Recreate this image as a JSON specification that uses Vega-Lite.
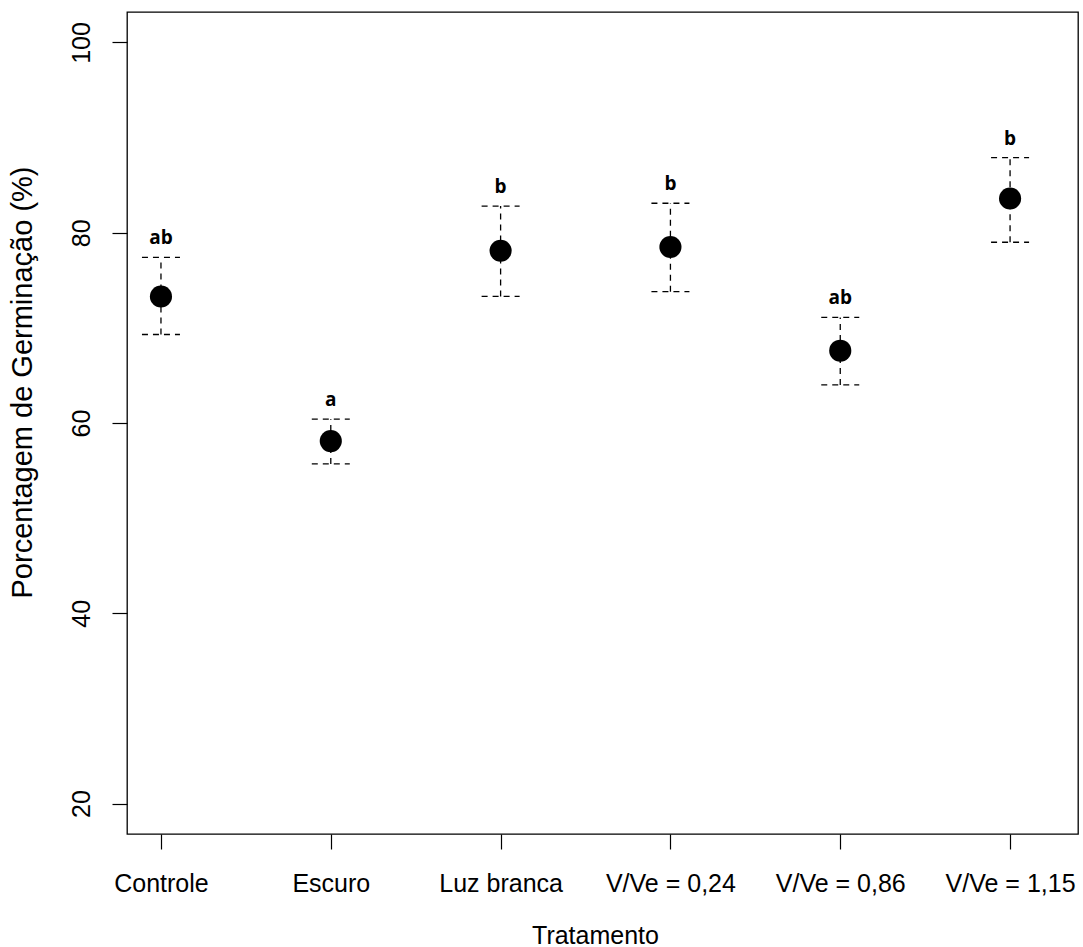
{
  "$schema": "https://vega.github.io/schema/vega-lite/v6.json",
  "width": 951,
  "height": 822,
  "autosize": {"type": "none"},
  "padding": {"left": 127, "top": 12, "right": 5, "bottom": 113},
  "background": "white",
  "config": {
    "view": {"stroke": "black", "strokeWidth": 1.3},
    "axis": {
      "grid": false,
      "domain": false,
      "tickColor": "black",
      "tickSize": 15,
      "tickWidth": 1.2,
      "labelColor": "black",
      "labelFont": "Liberation Sans",
      "labelFontSize": 25,
      "titleColor": "black",
      "titleFont": "Liberation Sans",
      "titleFontWeight": "normal"
    }
  },
  "data": {
    "values": [
      {"idx": 1, "trat": "Controle", "media": 73.3, "inf": 69.3, "sup": 77.4, "letra": "ab"},
      {"idx": 2, "trat": "Escuro", "media": 58.1, "inf": 55.7, "sup": 60.4, "letra": "a"},
      {"idx": 3, "trat": "Luz branca", "media": 78.1, "inf": 73.3, "sup": 82.8, "letra": "b"},
      {"idx": 4, "trat": "V/Ve = 0,24", "media": 78.5, "inf": 73.8, "sup": 83.1, "letra": "b"},
      {"idx": 5, "trat": "V/Ve = 0,86", "media": 67.6, "inf": 64.0, "sup": 71.1, "letra": "ab"},
      {"idx": 6, "trat": "V/Ve = 1,15", "media": 83.6, "inf": 79.0, "sup": 87.9, "letra": "b"}
    ]
  },
  "encoding": {
    "x": {
      "field": "idx",
      "type": "quantitative",
      "scale": {"domain": [0.8, 6.4], "nice": false, "zero": false},
      "axis": {
        "values": [1, 2, 3, 4, 5, 6],
        "labelExpr": "['Controle','Escuro','Luz branca','V/Ve = 0,24','V/Ve = 0,86','V/Ve = 1,15'][datum.value - 1]",
        "labelPadding": 22,
        "labelFlush": false,
        "labelOverlap": false,
        "title": "Tratamento",
        "titleFontSize": 25,
        "titleBaseline": "middle",
        "titleAnchor": "middle",
        "titleX": 468,
        "titleY": 101
      }
    }
  },
  "layer": [
    {
      "mark": {"type": "rule", "strokeDash": [6, 5], "strokeWidth": 1.3, "color": "black"},
      "encoding": {
        "y": {
          "field": "inf",
          "type": "quantitative",
          "scale": {"domain": [16.8, 103.2], "nice": false, "zero": false},
          "axis": {
            "values": [20, 40, 60, 80, 100],
            "labelAngle": -90,
            "labelAlign": "center",
            "labelBaseline": "bottom",
            "labelPadding": 18,
            "labelFlush": false,
            "title": "Porcentagem de Germinação  (%)",
            "titleFontSize": 29,
            "titleAngle": -90,
            "titleAlign": "center",
            "titleBaseline": "middle",
            "titleX": -105,
            "titleY": 370
          }
        },
        "y2": {"field": "sup"}
      }
    },
    {
      "mark": {"type": "rule", "strokeDash": [6, 5], "strokeWidth": 1.3, "color": "black", "xOffset": -19, "x2Offset": 19},
      "encoding": {
        "x2": {"field": "idx"},
        "y": {"field": "sup", "type": "quantitative"}
      }
    },
    {
      "mark": {"type": "rule", "strokeDash": [6, 5], "strokeWidth": 1.3, "color": "black", "xOffset": -19, "x2Offset": 19},
      "encoding": {
        "x2": {"field": "idx"},
        "y": {"field": "inf", "type": "quantitative"}
      }
    },
    {
      "mark": {"type": "point", "shape": "circle", "filled": true, "color": "black", "opacity": 1, "size": 490},
      "encoding": {
        "y": {"field": "media", "type": "quantitative"}
      }
    },
    {
      "mark": {"type": "text", "font": "Open Sans", "fontWeight": "bold", "fontSize": 19, "color": "black", "baseline": "middle", "dy": -19},
      "encoding": {
        "y": {"field": "sup", "type": "quantitative"},
        "text": {"field": "letra"}
      }
    }
  ]
}
